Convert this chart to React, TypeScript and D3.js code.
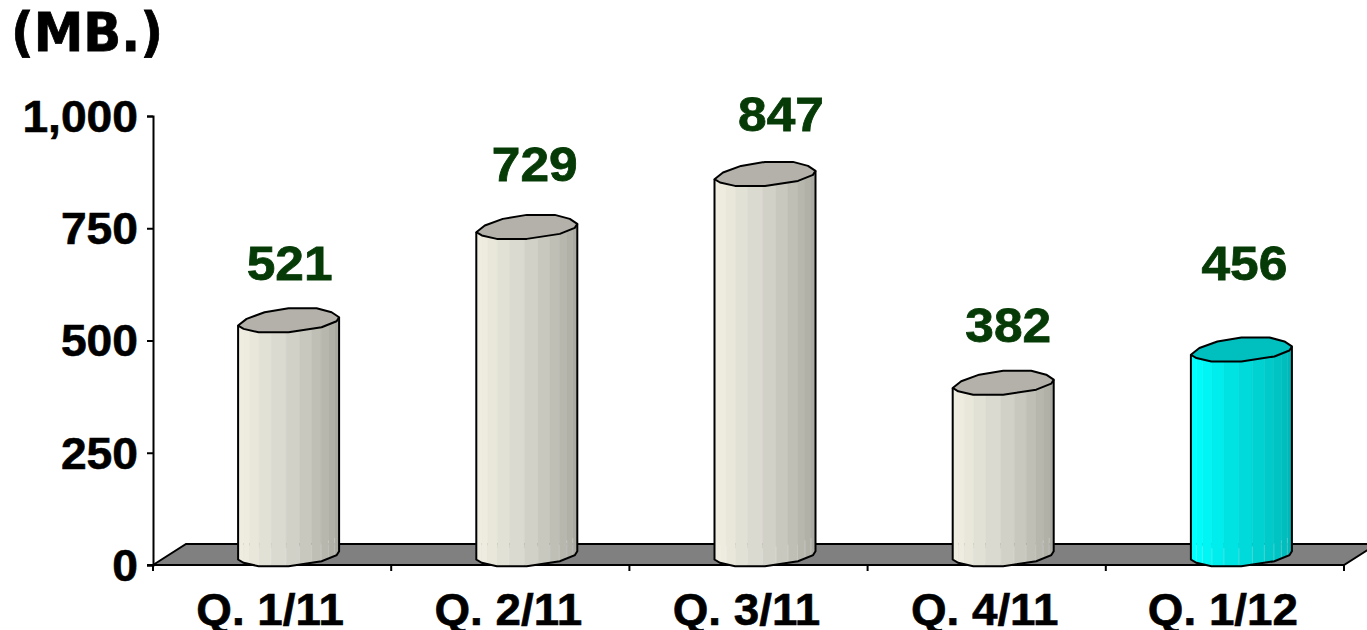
import { useEffect, useRef } from 'react'
import * as d3 from 'd3'

const categories = ['Q. 1/11', 'Q. 2/11', 'Q. 3/11', 'Q. 4/11', 'Q. 1/12']
const values = [521, 729, 847, 382, 456]
const yTicks = [0, 250, 500, 750, 1000]
const unitLabel = '(MB.)'

// the last bar is highlighted
const plainShades = ['#efece0', '#eeebdf', '#e9e7da', '#e2e1d5', '#dbdad0', '#d2d1c8', '#c8c8bf', '#bfbfb6', '#b7b7ae', '#b1b1a8', '#abaaa2']
const accentShades = ['#00ffff', '#00fbfb', '#00f5f5', '#00eded', '#00e3e3', '#00dada', '#00d2d2', '#00caca', '#00c4c4', '#00bebe', '#00b8b8']
const capColors = ['#b3b1a9', '#b3b1a9', '#b3b1a9', '#b3b1a9', '#00bfbf']

// hand-placed value labels, relative to the top of each bar
const labelDx = [1, 8, 16, 5, 3]
const labelDy = [-51, -57, -54, -51, -80]

const WIDTH = 1367
const HEIGHT = 630
const margin = { top: 116, right: 23, bottom: 65, left: 153 }
const depth = { x: 33, y: 21 }

// cylinder cross-section, offsets from the bar centre
const capOutline: [number, number][] = [
  [-50.5, 5], [-42, -1.7], [-24, -8.3], [0, -12.3], [28, -12.3], [43, -8.3],
  [50.5, -3.3], [48, 0.7], [33, 6.7], [0, 11.7], [-30, 11.7], [-45, 8.3],
]
const frontEdge: [number, number][] = [
  [-50.5, 5], [-45, 8.3], [-30, 11.7], [0, 11.7], [33, 6.7], [48, 0.7], [50.5, -3.3],
]
const stripEdges = [-50.5, -45, -39, -29.5, -17.5, -2.5, 11, 23, 32.5, 40, 46, 50.5]

// the reference text is a bit wider than the installed Arial lookalike
function stretchText(sel: d3.Selection<any, any, any, any>, factor: number) {
  sel.each(function () {
    const node = this as SVGTextElement
    node.setAttribute('textLength', String(node.getComputedTextLength() * factor))
    node.setAttribute('lengthAdjust', 'spacingAndGlyphs')
  })
}

export default function App() {
  const svgRef = useRef<SVGSVGElement>(null)

  useEffect(() => {
    if (!svgRef.current) return
    const svg = d3.select(svgRef.current)
    svg.selectAll('*').remove()

    const x0 = margin.left
    const x1 = WIDTH - margin.right
    const y0 = HEIGHT - margin.bottom

    const x = d3.scaleBand<string>().domain(categories).range([x0, x1])
    const y = d3.scaleLinear().domain([0, 1000]).range([y0, margin.top])

    // Floor
    svg.append('path')
      .attr('d', d3.line()([
        [x0, y0],
        [x0 + depth.x, y0 - depth.y],
        [x1 + depth.x, y0 - depth.y],
        [x1, y0],
      ]) + 'Z')
      .attr('fill', '#808080')
      .attr('stroke', '#000')
      .attr('stroke-width', 2)

    // Axes
    const yAxis = d3.axisLeft(y)
      .tickValues(yTicks)
      .tickSize(6)
      .tickPadding(9)
      .tickFormat((d) => d3.format(',')(d as number))
    const yG = svg.append('g').attr('transform', `translate(${x0},0)`).call(yAxis)
    yG.selectAll('path, line').attr('stroke', '#000').attr('stroke-width', 2)
    const yLabels = yG.selectAll('text')
      .attr('fill', '#000')
      .attr('font-family', 'Liberation Sans')
      .attr('font-weight', 'bold')
      .attr('font-size', 44)
      .attr('stroke', '#000')
      .attr('stroke-width', 0.6)
      .attr('dy', '0.35em')
    stretchText(yLabels, 1.05)

    const xAxis = d3.axisBottom(x).tickSize(0).tickPadding(0)
    const xG = svg.append('g').attr('transform', `translate(0,${y0})`).call(xAxis)
    xG.select('.domain').remove()
    const xLabels = xG.selectAll('text')
      .attr('fill', '#000')
      .attr('font-family', 'Liberation Sans')
      .attr('font-weight', 'bold')
      .attr('font-size', 44)
      .attr('stroke', '#000')
      .attr('stroke-width', 0.6)
      .attr('dx', -2)
      .attr('y', 60)
      .attr('dy', 0)
    stretchText(xLabels, 1.04)

    const boundaries = [...categories.map((c) => x(c) as number), x1]
    svg.append('g')
      .selectAll('line')
      .data(boundaries)
      .join('line')
      .attr('x1', (d) => d)
      .attr('x2', (d) => d)
      .attr('y1', y0 - 1)
      .attr('y2', y0 + 6)
      .attr('stroke', '#000')
      .attr('stroke-width', 2)
    svg.append('line')
      .attr('x1', x0 - 6)
      .attr('x2', x1)
      .attr('y1', y0)
      .attr('y2', y0)
      .attr('stroke', '#000')
      .attr('stroke-width', 2)

    // Cylinders
    const frontY = d3.scaleLinear()
      .domain(frontEdge.map((p) => p[0]))
      .range(frontEdge.map((p) => p[1]))
    const outline = d3.line().curve(d3.curveLinearClosed)

    values.forEach((v, i) => {
      const cx = (x(categories[i]) as number) + x.bandwidth() / 2 + depth.x / 2
      const topY = y(v) - depth.y / 2
      const baseY = y0 - depth.y / 2
      const shades = i === values.length - 1 ? accentShades : plainShades
      const g = svg.append('g')

      d3.pairs(stripEdges).forEach(([a, b], s) => {
        g.append('path')
          .attr('d', outline([
            [cx + a, topY + frontY(a)],
            [cx + b, topY + frontY(b)],
            [cx + b, baseY + frontY(b)],
            [cx + a, baseY + frontY(a)],
          ]))
          .attr('fill', shades[s])
          .attr('stroke', shades[s])
          .attr('stroke-width', 0.5)
      })

      // faint facet marks near the base
      stripEdges.slice(1, -1).forEach((a) => {
        g.append('line')
          .attr('x1', cx + a)
          .attr('x2', cx + a)
          .attr('y1', baseY + frontY(a) - 18)
          .attr('y2', baseY + frontY(a))
          .attr('stroke', '#fff')
          .attr('stroke-opacity', 0.25)
      })

      // body outline
      g.append('path')
        .attr('d', d3.line()([
          [cx - 50.5, topY + 5],
          [cx - 50.5, baseY + 5],
          ...frontEdge.slice(1, -1).map(([dx, dy]) => [cx + dx, baseY + dy] as [number, number]),
          [cx + 50.5, baseY - 3.3],
          [cx + 50.5, topY - 3.3],
        ]))
        .attr('fill', 'none')
        .attr('stroke', '#000')
        .attr('stroke-width', 2)

      // top cap
      g.append('path')
        .attr('d', outline(capOutline.map(([dx, dy]) => [cx + dx, topY + dy] as [number, number])))
        .attr('fill', capColors[i])
        .attr('stroke', '#000')
        .attr('stroke-width', 2)
        .attr('stroke-linejoin', 'round')

      // value label
      const label = svg.append('text')
        .attr('x', cx + labelDx[i])
        .attr('y', y(v) + labelDy[i])
        .attr('text-anchor', 'middle')
        .attr('fill', '#063a06')
        .attr('stroke', '#063a06')
        .attr('stroke-width', 0.8)
        .attr('font-family', 'Liberation Sans')
        .attr('font-weight', 'bold')
        .attr('font-size', 49)
        .text(v)
      stretchText(label, 1.05)
    })

    // Unit label
    const unit = svg.append('text')
      .attr('x', 11)
      .attr('y', 51)
      .attr('fill', '#000')
      .attr('stroke', '#000')
      .attr('stroke-width', 0.8)
      .attr('font-family', 'DejaVu Sans')
      .attr('font-weight', 'bold')
      .attr('font-size', 53)
      .text(unitLabel)
    stretchText(unit, 0.94)
  }, [])

  return (
    <svg
      ref={svgRef}
      width={WIDTH}
      height={HEIGHT}
      style={{ position: 'absolute', left: 0, top: 0, background: '#fff' }}
    />
  )
}
